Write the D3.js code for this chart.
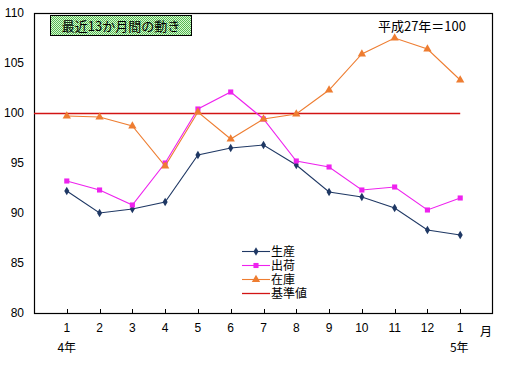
<!DOCTYPE html>
<html><head><meta charset="utf-8">
<script src="https://cdn.jsdelivr.net/npm/d3@7"></script>
<style>
body{margin:0;background:#fff;}
svg{display:block;}
text{font-family:"Liberation Sans","Noto Sans CJK JP",sans-serif;fill:#000;}
.jp{font-family:"Noto Sans CJK JP",sans-serif;}
</style></head>
<body><svg id="c" width="511" height="368"></svg>
<script>
const months = ["1","2","3","4","5","6","7","8","9","10","11","12","1"];
const production = [92.2,90.0,90.4,91.1,95.8,96.5,96.8,94.8,92.1,91.6,90.5,88.3,87.8];
const shipments  = [93.2,92.3,90.8,95.0,100.4,102.1,99.4,95.2,94.6,92.3,92.6,90.3,91.5];
const inventory  = [99.7,99.6,98.7,94.7,100.1,97.4,99.4,99.9,102.3,105.9,107.5,106.4,103.3];
const baseValue = 100;
const yTicks = [80,85,90,95,100,105,110];
const seriesNames = ["生産","出荷","在庫","基準値"];

const svg = d3.select("#c");
const L=34, R=493, T=13, B=313;
const x = d3.scaleLinear().domain([0,14]).range([L,R]);
const y = d3.scaleLinear().domain([80,110]).range([B,T]);

const defs = svg.append("defs");
const pat = defs.append("pattern").attr("id","hatch").attr("width",2).attr("height",2).attr("patternUnits","userSpaceOnUse");
pat.append("rect").attr("width",2).attr("height",2).attr("fill","#d8f8d0");
pat.append("rect").attr("width",1).attr("height",1).attr("fill","#55b855");
pat.append("rect").attr("x",1).attr("y",1).attr("width",1).attr("height",1).attr("fill","#55b855");

svg.append("rect").attr("x",L+0.5).attr("y",T+0.5).attr("width",R-L-1).attr("height",B-T).attr("fill","none").attr("stroke","#000").attr("stroke-width",1.2);

svg.append("g").selectAll("text").data(yTicks).join("text")
  .attr("x",24).attr("y",d=>y(d)).attr("dy","0.35em").attr("text-anchor","end")
  .attr("font-size",12).text(d=>d);

const idx = d3.range(1,14);
svg.append("g").selectAll("line").data(idx).join("line")
  .attr("x1",d=>Math.round(x(d))+0.5).attr("x2",d=>Math.round(x(d))+0.5)
  .attr("y1",B).attr("y2",B-4).attr("stroke","#000");
svg.append("g").selectAll("text").data(months).join("text")
  .attr("x",(d,i)=>x(i+1)).attr("y",328).attr("dy","0.35em").attr("text-anchor","middle")
  .attr("font-size",12).text(d=>d);
svg.append("text").attr("class","jp").attr("x",486).attr("y",332).attr("dy","0.35em").attr("text-anchor","middle").attr("font-size",12).text("月");
svg.append("text").attr("class","jp").attr("x",x(1)).attr("y",348).attr("dy","0.35em").attr("text-anchor","middle").attr("font-size",12).text("4年");
svg.append("text").attr("class","jp").attr("x",x(13)-1).attr("y",348).attr("dy","0.35em").attr("text-anchor","middle").attr("font-size",12).text("5年");

const colors = ["#1f3864","#ee22ee","#ee7d31","#d21414"];
svg.append("line").attr("x1",x(0)).attr("x2",x(13)).attr("y1",y(baseValue)+0.5).attr("y2",y(baseValue)+0.5)
  .attr("stroke",colors[3]).attr("stroke-width",1.3);

const shapes = [d3.symbolDiamond, d3.symbolSquare, d3.symbolTriangle];
const sizes = [22,26,30];
const data = [production, shipments, inventory];
const line = d3.line().x((d,i)=>x(i+1)).y(d=>y(d));
data.forEach((s,k)=>{
  svg.append("path").datum(s).attr("d",line).attr("fill","none").attr("stroke",colors[k]).attr("stroke-width",1.1);
  svg.append("g").selectAll("path").data(s).join("path")
    .attr("transform",(d,i)=>`translate(${x(i+1)},${y(d)})`)
    .attr("d",d3.symbol().type(shapes[k]).size(sizes[k])).attr("fill",colors[k]);
});

const legY = [251,265,279,293];
seriesNames.forEach((n,k)=>{
  const g = svg.append("g");
  g.append("line").attr("x1",242).attr("x2",270).attr("y1",legY[k]+0.5).attr("y2",legY[k]+0.5).attr("stroke",colors[k]).attr("stroke-width",k==3?1.3:1.1);
  if(k<3) g.append("path").attr("transform",`translate(256,${legY[k]+0.5})`).attr("d",d3.symbol().type(shapes[k]).size(sizes[k])).attr("fill",colors[k]);
  g.append("text").attr("x",271).attr("y",legY[k]).attr("dy","0.38em").attr("font-size",12).text(n);
});

svg.append("rect").attr("x",50.5).attr("y",15.5).attr("width",141).attr("height",20).attr("fill","url(#hatch)").attr("stroke","#000").attr("stroke-width",1);
svg.append("text").attr("class","jp").attr("x",121).attr("y",26).attr("dy","0.35em").attr("text-anchor","middle").attr("font-size",13).text("最近13か月間の動き");
svg.append("text").attr("class","jp").attr("x",466).attr("y",26).attr("dy","0.35em").attr("text-anchor","end").attr("font-size",13).text("平成27年＝100");
</script></body></html>
